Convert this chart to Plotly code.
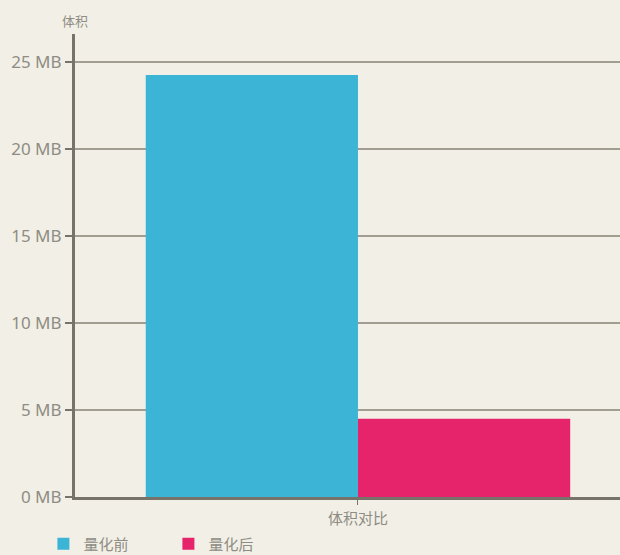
import plotly.graph_objects as go

categories = ["体积对比"]
series_names = ["量化前", "量化后"]
before_values = [24.25]
after_values = [4.5]
y_tickvals = [0, 5, 10, 15, 20, 25]
y_ticktext = ["0 MB", "5 MB", "10 MB", "15 MB", "20 MB", "25 MB"]

BG = "#f2f0e6"
TXT = "#8e8c84"
FONT = "Noto Sans, Noto Sans CJK SC, sans-serif"
CJK = "Noto Sans CJK SC"

fig = go.Figure()
fig.add_trace(go.Bar(x=categories, y=before_values, name=series_names[0],
                     marker=dict(color="#3bb4d6", line=dict(width=0))))
fig.add_trace(go.Bar(x=categories, y=after_values, name=series_names[1],
                     marker=dict(color="#e6246b", line=dict(width=0))))

fig.update_layout(
    width=620, height=555,
    margin=dict(l=75, r=0, t=34, b=58),
    paper_bgcolor=BG, plot_bgcolor=BG,
    barmode="group", bargap=0.25, bargroupgap=0,
    font=dict(family=FONT, size=15, color=TXT),
    showlegend=True,
    legend=dict(orientation="h", x=0.07, xref="container", xanchor="left",
                y=0.02, yref="container", yanchor="middle",
                font=dict(family=CJK, size=15, color=TXT),
                itemwidth=30, entrywidth=80, entrywidthmode="pixels",
                bgcolor="rgba(0,0,0,0)"),
    xaxis=dict(type="category", range=[-0.5, 0.463], showgrid=False,
               showline=True, linecolor="#77736a", linewidth=3,
               ticks="outside", ticklen=5, tickcolor="#77736a", tickwidth=1,
               ticklabelstandoff=1, automargin=False,
               tickfont=dict(family=CJK, size=15, color=TXT)),
    yaxis=dict(range=[0, 26.6], tickvals=y_tickvals, ticktext=y_ticktext,
               showgrid=True, gridcolor="#a19d90", gridwidth=2,
               showline=True, linecolor="#77736a", linewidth=3,
               ticks="outside", ticklen=7, tickcolor="#77736a", tickwidth=2,
               automargin=False,
               zeroline=False, tickfont=dict(family=FONT, size=17, color=TXT)),
)

fig.add_annotation(text="体积", xref="paper", yref="paper", x=0, y=1, xanchor="center",
                   yanchor="bottom", yshift=2, showarrow=False,
                   font=dict(family=CJK, size=13, color=TXT))

fig.write_html("out.html")
